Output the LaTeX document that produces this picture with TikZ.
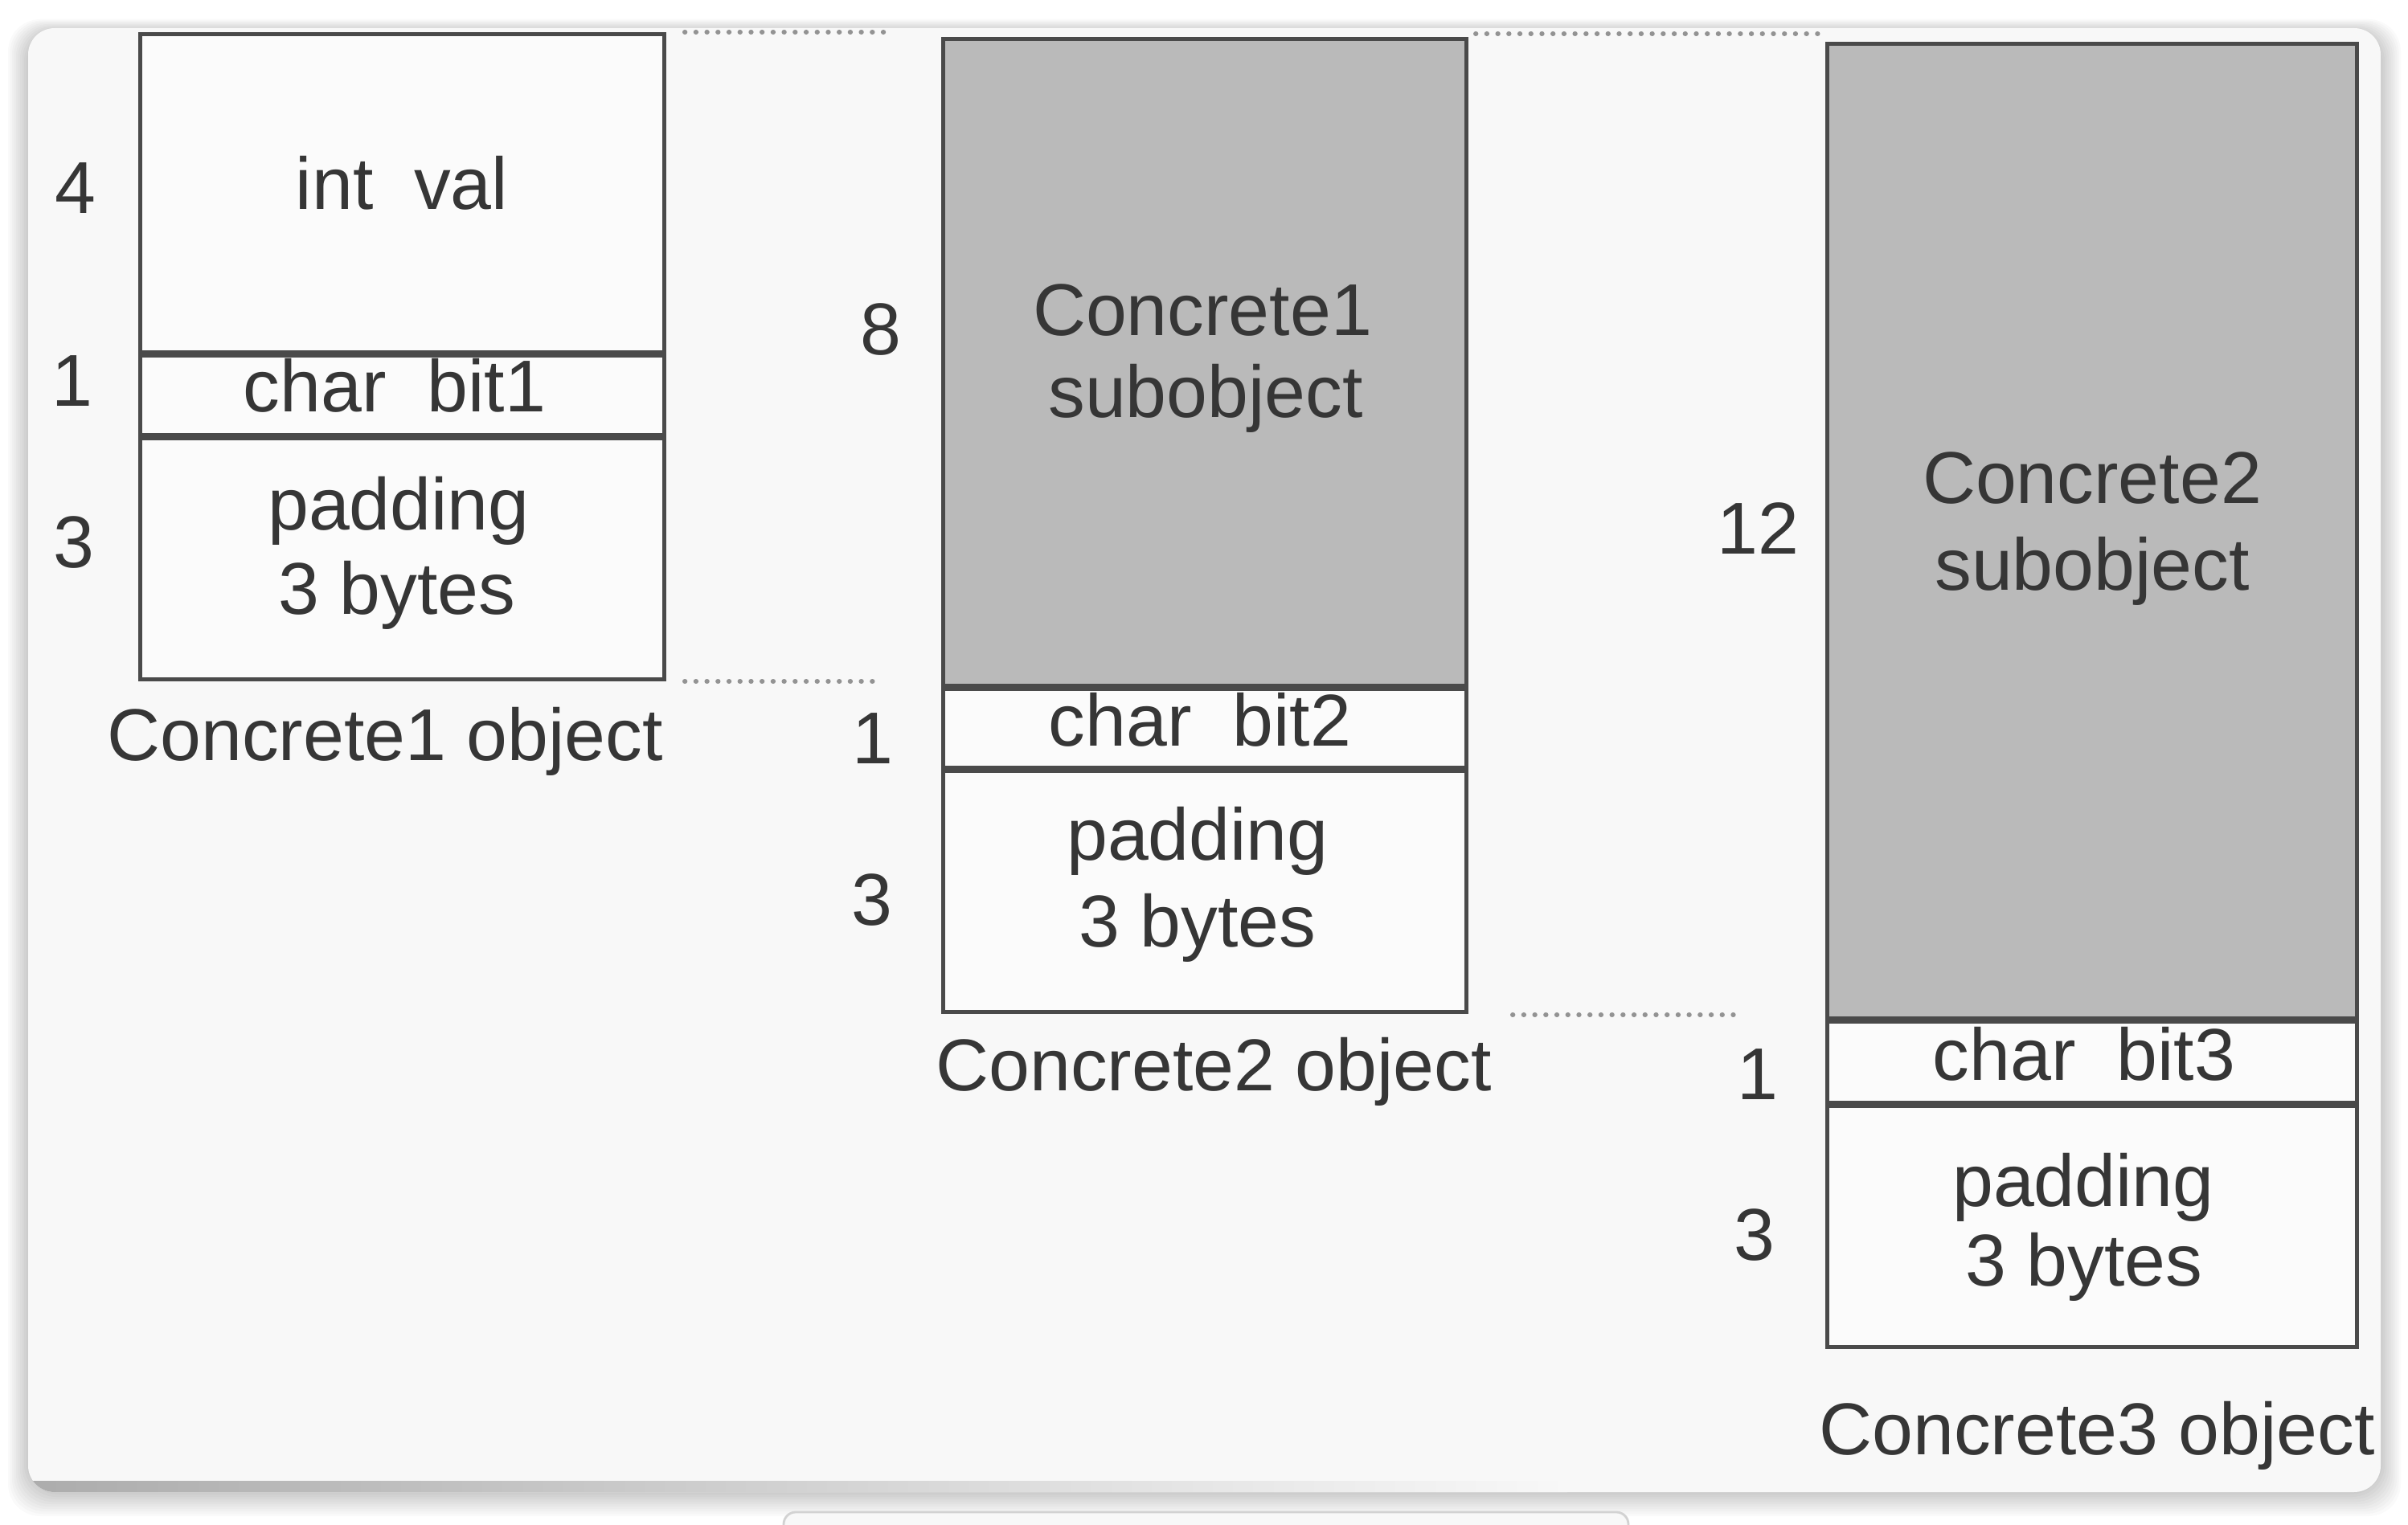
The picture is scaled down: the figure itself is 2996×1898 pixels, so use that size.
\documentclass[tikz,border=0pt]{standalone}
\usepackage{fontspec}
\setmainfont{Liberation Sans}
\definecolor{linec}{HTML}{4A4A4A}
\definecolor{textc}{HTML}{363636}
\definecolor{subc}{HTML}{BABABA}
\definecolor{panelc}{HTML}{F8F8F8}
\definecolor{boxc}{HTML}{FBFBFB}
\definecolor{bgc}{HTML}{FFFFFF}
\tikzset{
  lbl/.style={font=\fontsize{26}{31}\selectfont, text=textc, inner sep=0pt, anchor=base},
  cellbox/.style={draw=linec, line width=1.4pt, fill=boxc, inner sep=0pt, anchor=north west},
  subbox/.style={cellbox, fill=subc},
  sepline/.style={draw=linec, line width=2.3pt},
  dotline/.style={draw=gray!85, line width=1.7pt, dash pattern=on 0.1pt off 3.8pt, line cap=round}
}
\begin{document}
\begin{tikzpicture}[x=0.01cm, y=-0.01cm]
\useasboundingbox (0,0) rectangle (2996,1898);
\clip (0,0) rectangle (2996,1898);
% background and panel shadow
\fill[bgc] (0,0) rectangle (2996,1898);
\foreach \i in {1,...,10}{
  \fill[black, opacity=0.018, rounded corners=0.4cm]
    ({35-2.5*\i},{35-1.5*\i+4}) rectangle ({2962+2.5*\i},{1857+3*\i});
}
% bottom tab
\draw[draw=gray!35, fill=panelc, line width=0.8pt, rounded corners=0.15cm]
  (975,1882) rectangle (2026,1990);
% panel
\fill[panelc, rounded corners=0.33cm] (35,35) rectangle (2962,1857);
% dark strip along the bottom of the panel
\begin{scope}
  \clip[rounded corners=0.33cm] (35,35) rectangle (2962,1857);
  \shade[left color=gray!65, right color=panelc] (35,1843) rectangle (1950,1857);
\end{scope}

% ---- Concrete1 object
\node[cellbox, minimum width=6.52cm, minimum height=4.00cm] (c1int) at (172,40) {};
\node[cellbox, minimum width=6.52cm, minimum height=1.03cm] (c1char) at (172,440) {};
\node[cellbox, minimum width=6.52cm, minimum height=3.00cm] (c1pad) at (172,543) {};
\draw[sepline] (c1char.north west) -- (c1char.north east);
\draw[sepline] (c1pad.north west) -- (c1pad.north east);

% ---- Concrete2 object
\node[subbox, minimum width=6.51cm, minimum height=8.09cm] (c2sub) at (1171,46) {};
\node[cellbox, minimum width=6.51cm, minimum height=1.02cm] (c2char) at (1171,855) {};
\node[cellbox, minimum width=6.51cm, minimum height=3.00cm] (c2pad) at (1171,957) {};
\draw[sepline] (c2char.north west) -- (c2char.north east);
\draw[sepline] (c2pad.north west) -- (c2pad.north east);

% ---- Concrete3 object
\node[subbox, minimum width=6.59cm, minimum height=12.17cm] (c3sub) at (2271,52) {};
\node[cellbox, minimum width=6.59cm, minimum height=1.05cm] (c3char) at (2271,1269) {};
\node[cellbox, minimum width=6.59cm, minimum height=3.00cm] (c3pad) at (2271,1374) {};
\draw[sepline] (c3char.north west) -- (c3char.north east);
\draw[sepline] (c3pad.north west) -- (c3pad.north east);

% ---- dotted guide lines
\coordinate (t1a) at (852,40);   \coordinate (t1b) at (1100,40);
\coordinate (t2a) at (1836,42);  \coordinate (t2b) at (2272,42);
\coordinate (m1a) at (852,848);  \coordinate (m1b) at (1094,848);
\coordinate (m2a) at (1882,1263); \coordinate (m2b) at (2166,1263);
\draw[dotline] (t1a) -- (t1b);
\draw[dotline] (t2a) -- (t2b);
\draw[dotline] (m1a) -- (m1b);
\draw[dotline] (m2a) -- (m2b);

% ---- texts, box 1
\node[lbl] (n4)  at (94,266)  {4};
\node[lbl] (n1a) at (90,506)  {1};
\node[lbl] (n3a) at (92,707)  {3};
\node[lbl] (tint) at (500,261) {int\ \ val};
\node[lbl] (tch1) at (491,513) {char\ \ bit1};
\node[lbl] (tpd1) at (496,660) {padding};
\node[lbl] (tby1) at (494,765) {3 bytes};
\node[lbl] (tob1) at (479,947) {Concrete1 object};

% ---- texts, box 2
\node[lbl] (n8)  at (1096,442) {8};
\node[lbl] (n1b) at (1086,951) {1};
\node[lbl] (n3b) at (1085,1152) {3};
\node[lbl] (tsb1a) at (1496,418) {Concrete1};
\node[lbl] (tsb1b) at (1500,520) {subobject};
\node[lbl] (tch2) at (1493,929) {char\ \ bit2};
\node[lbl] (tpd2) at (1490,1071) {padding};
\node[lbl] (tby2) at (1490,1179) {3 bytes};
\node[lbl] (tob2) at (1510,1357) {Concrete2 object};

% ---- texts, box 3
\node[lbl] (n12) at (2187,690) {12};
\node[lbl] (n1c) at (2187,1368) {1};
\node[lbl] (n3c) at (2183,1568) {3};
\node[lbl] (tsb2a) at (2603,627) {Concrete2};
\node[lbl] (tsb2b) at (2603,735) {subobject};
\node[lbl] (tch3) at (2593,1344) {char\ \ bit3};
\node[lbl] (tpd3) at (2592,1501) {padding};
\node[lbl] (tby3) at (2593,1600) {3 bytes};
\node[lbl] (tob3) at (2609,1810) {Concrete3 object};
\end{tikzpicture}
\end{document}
